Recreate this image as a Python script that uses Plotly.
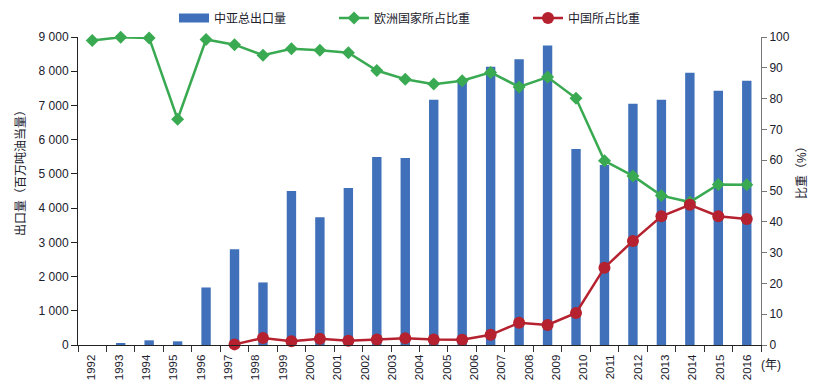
import plotly.graph_objects as go

# ---- data ----
years = [str(y) for y in range(1992, 2017)]  # tick labels (25)

# values per plotted slot (24 slots drawn in the reference)
export_total = [0, 40, 137, 107, 1681, 2796, 1828, 4497, 3734, 4585, 5494, 5464,
                7165, 7750, 8133, 8348, 8749, 5728, 5259, 7048, 7165, 7957, 7429, 7722]
europe_share = [98.9, 99.9, 99.7, 73.3, 99.2, 97.5, 94.1, 96.2, 95.7, 94.9, 89.1, 86.3,
                84.7, 85.8, 88.5, 83.8, 87.0, 80.1, 59.8, 54.9, 48.5, 46.4, 52.1, 52.0]
china_share = [None, None, None, None, None, 0.2, 2.3, 1.2, 2.0, 1.4, 1.8, 2.2,
               1.8, 1.7, 3.3, 7.2, 6.5, 10.4, 25.1, 33.8, 41.8, 45.5, 41.8, 40.9]

series_names = ["中亚总出口量", "欧洲国家所占比重", "中国所占比重"]
left_title = "出口量（百万吨油当量）"
right_title = "比重（%）"
year_unit = "(年)"

BLUE = "#3F70B9"
GREEN = "#3AAA52"
RED = "#B5212E"
TXT = "#20202c"
FONT = "Liberation Sans, Arial, Noto Sans CJK SC, sans-serif"

W, H = 812, 378  # page body adds an 8px offset in the 820x386 window
n = len(export_total)
xs = [i + 0.5 for i in range(n)]

fig = go.Figure()

fig.add_trace(go.Bar(x=xs, y=export_total, width=0.33, marker=dict(color=BLUE, line=dict(width=0)),
                     showlegend=False, yaxis="y", xaxis="x", hoverinfo="skip"))
# legend-only swatch for the bars (wide rectangle)
fig.add_trace(go.Scatter(x=[None], y=[None], mode="lines", line=dict(color=BLUE, width=9),
                         name=series_names[0], legend="legend"))
fig.add_trace(go.Scatter(x=xs, y=europe_share, mode="lines+markers", yaxis="y2",
                         line=dict(color=GREEN, width=2.5), cliponaxis=False,
                         marker=dict(symbol="diamond", size=10, color=GREEN),
                         name=series_names[1], legend="legend2"))
fig.add_trace(go.Scatter(x=xs, y=china_share, mode="lines+markers", yaxis="y2",
                         line=dict(color=RED, width=2.5), cliponaxis=False,
                         marker=dict(symbol="circle", size=12, color=RED),
                         name=series_names[2], legend="legend3"))
# empty trace so the label axis is drawn
fig.add_trace(go.Scatter(x=[], y=[], xaxis="x2", yaxis="y", showlegend=False, hoverinfo="skip"))

leg_common = dict(orientation="h", xref="container", yref="container", yanchor="middle",
                  xanchor="left", font=dict(size=12, color=TXT, family=FONT),
                  bgcolor="rgba(0,0,0,0)")
leg_y = 1 - 10 / H

fig.update_layout(
    width=W, height=H,
    margin=dict(l=70, r=59, t=29, b=41, autoexpand=False),
    paper_bgcolor="white", plot_bgcolor="white",
    font=dict(family=FONT, size=12, color=TXT),
    separators=". ",
    xaxis=dict(range=[0, n], tickvals=list(range(0, n + 1)), showticklabels=False,
               ticks="outside", ticklen=6, tickcolor="#333", showline=True,
               linecolor="#222", linewidth=1, showgrid=False, zeroline=False),
    xaxis2=dict(overlaying="x", anchor="y", side="bottom", range=[0, len(years)],
                tickvals=[i + 0.5 for i in range(len(years))], ticktext=years,
                tickangle=-90, ticks="outside", ticklen=4, tickcolor="rgba(0,0,0,0)",
                showline=False, showgrid=False, zeroline=False,
                tickfont=dict(size=11.5, color=TXT)),
    yaxis=dict(range=[0, 9000], dtick=1000, ticks="outside", ticklen=6, tickcolor="#222",
               showline=True, linecolor="#222", linewidth=1, showgrid=False, zeroline=False,
               separatethousands=True, tickfont=dict(size=12, color=TXT)),
    yaxis2=dict(range=[0, 100], dtick=10, overlaying="y", side="right", ticks="outside",
                ticklen=5, tickcolor="#777", showline=True, linecolor="#777", linewidth=1,
                showgrid=False, zeroline=False, tickfont=dict(size=12, color=TXT)),
    legend=dict(x=166 / W, y=leg_y, **leg_common),
    legend2=dict(x=326 / W, y=leg_y, **leg_common),
    legend3=dict(x=520 / W, y=leg_y, **leg_common),
    annotations=[
        dict(text=left_title, textangle=-90, xref="paper", yref="paper",
             x=-(78 - 21) / 683, y=1 - (170 - 37) / 308, showarrow=False,
             font=dict(size=12, color=TXT), xanchor="center", yanchor="middle"),
        dict(text=right_title, textangle=-90, xref="paper", yref="paper",
             x=1 + (802 - 761) / 683, y=1 - (170 - 37) / 308, showarrow=False,
             font=dict(size=12, color=TXT), xanchor="center", yanchor="middle"),
        dict(text=year_unit, xref="paper", yref="paper",
             x=1 + (771 - 761) / 683, y=-(365 - 345) / 308, showarrow=False,
             font=dict(size=12, color=TXT), xanchor="center", yanchor="middle"),
    ],
)

fig.write_html("out.html")
